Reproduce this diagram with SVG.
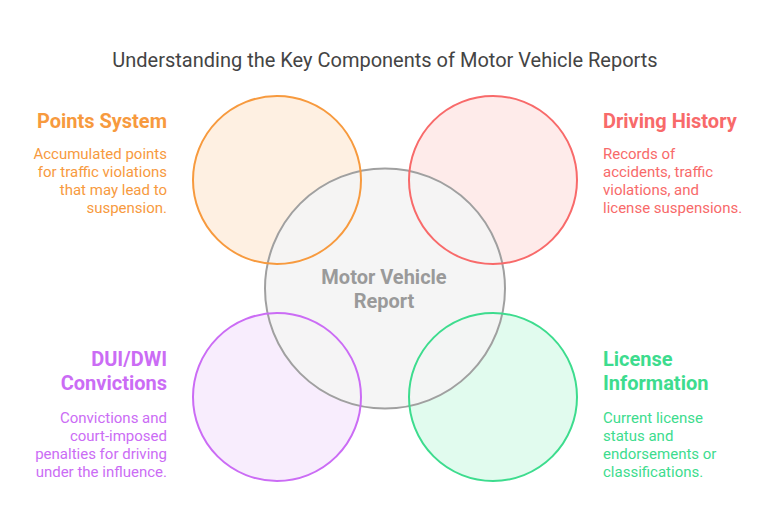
<svg xmlns="http://www.w3.org/2000/svg" width="770" height="530" viewBox="0 0 770 530">
<style>
text{font-family:Roboto,"Liberation Sans",sans-serif}
.t{font-size:20px;fill:#444}
.h{font-size:20px;font-weight:bold}
.d{font-size:15px}
.r{text-anchor:end}
.c{stroke-width:2}
</style>
<rect width="770" height="530" fill="#fff"/>
<text class="t" x="385" y="67" text-anchor="middle">Understanding the Key Components of Motor Vehicle Reports</text>
<g id="fills">
<circle cx="277" cy="180" r="84" fill="#FEF0E2"/>
<circle cx="493" cy="180" r="84" fill="#FEEBEA"/>
<circle cx="277" cy="397" r="84" fill="#F8EDFD"/>
<circle cx="493" cy="397" r="84" fill="#E1FBEE"/>
<circle cx="385" cy="288.5" r="120" fill="#F4F4F4" fill-opacity="0.92"/>
</g>
<g id="center">
<circle cx="385" cy="288.5" r="120" fill="none" stroke="#A0A0A0" class="c"/>
<text class="h" x="384" y="284" text-anchor="middle" fill="#9A9A9A">Motor Vehicle</text>
<text class="h" x="384" y="308" text-anchor="middle" fill="#9A9A9A">Report</text>
</g>
<g id="points">
<circle cx="277" cy="180" r="84" fill="none" stroke="#F79A3E" class="c"/>
<text class="h r" x="167" y="128" fill="#F79A3E">Points System</text>
<text class="d r" fill="#F79A3E"><tspan x="167" y="159">Accumulated points</tspan><tspan x="167" y="177">for traffic violations</tspan><tspan x="167" y="195">that may lead to</tspan><tspan x="167" y="213">suspension.</tspan></text>
</g>
<g id="driving">
<circle cx="493" cy="180" r="84" fill="none" stroke="#F86A6A" class="c"/>
<text class="h" x="603" y="128" fill="#F86A6A">Driving History</text>
<text class="d" fill="#F86A6A"><tspan x="603" y="159">Records of</tspan><tspan x="603" y="177">accidents, traffic</tspan><tspan x="603" y="195">violations, and</tspan><tspan x="603" y="213">license suspensions.</tspan></text>
</g>
<g id="dui">
<circle cx="277" cy="397" r="84" fill="none" stroke="#CB6CF5" class="c"/>
<text class="h r" x="167" y="366" fill="#CB6CF5">DUI/DWI</text>
<text class="h r" x="167" y="390" fill="#CB6CF5">Convictions</text>
<text class="d r" fill="#CB6CF5"><tspan x="167" y="423">Convictions and</tspan><tspan x="167" y="441">court-imposed</tspan><tspan x="167" y="459">penalties for driving</tspan><tspan x="167" y="477">under the influence.</tspan></text>
</g>
<g id="license">
<circle cx="493" cy="397" r="84" fill="none" stroke="#3DDC8E" class="c"/>
<text class="h" x="603" y="366" fill="#3DDC8E">License</text>
<text class="h" x="603" y="390" fill="#3DDC8E">Information</text>
<text class="d" fill="#3DDC8E"><tspan x="603" y="423">Current license</tspan><tspan x="603" y="441">status and</tspan><tspan x="603" y="459">endorsements or</tspan><tspan x="603" y="477">classifications.</tspan></text>
</g>
<g id="connectors"/>
</svg>
